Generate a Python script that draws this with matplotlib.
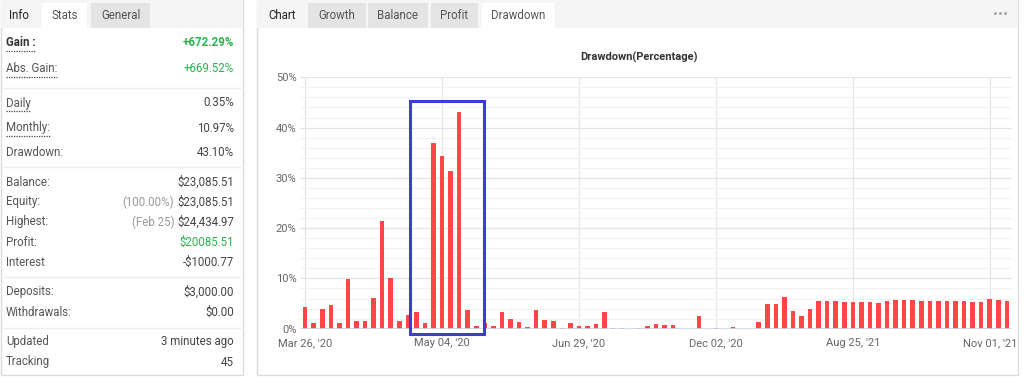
import matplotlib.pyplot as plt
from matplotlib.patches import Rectangle
from matplotlib.ticker import MultipleLocator

plt.rcParams['font.family'] = ['Roboto', 'DejaVu Sans']

# --- chart data (drawdown in %, one bar per period) ---
drawdown = [4.25, 1.2, 3.85, 4.8, 1.2, 9.95, 1.6, 1.6, 6.2, 21.5,
            10.0, 1.6, 2.7, 3.3, 1.1, 37.0, 34.3, 31.3, 43.1, 3.7,
            0.5, 1.2, 0.5, 3.3, 2.0, 1.3, 0.35, 3.7, 1.7, 1.5,
            0.15, 1.1, 0.6, 0.45, 0.95, 3.4, 0.2, 0.2, 0, 0.2,
            0.55, 1.0, 0.8, 0.8, 0, 0, 2.45, 0, 0.15, 0,
            0.35, 0, 0, 1.3, 4.9, 5.0, 6.4, 3.5, 2.6, 3.9,
            5.45, 5.45, 5.45, 5.25, 5.25, 5.25, 5.25, 5.05, 5.45, 5.65,
            5.65, 5.65, 5.45, 5.45, 5.45, 5.45, 5.45, 5.45, 5.25, 5.25,
            5.85, 5.65, 5.45]
tick_labels = ["Mar 26, '20", "May 04, '20", "Jun 29, '20",
               "Dec 02, '20", "Aug 25, '21", "Nov 01, '21"]
tick_step = 16
y_ticks = [0, 10, 20, 30, 40, 50]
highlight_bars = (13, 20)   # first / last bar inside the blue box

# --- stats panel ---
stat_labels = ["Gain :", "Abs. Gain:", "Daily", "Monthly:", "Drawdown:",
               "Balance:", "Equity:", "Highest:", "Profit:", "Interest",
               "Deposits:", "Withdrawals:", "Updated", "Tracking"]
stat_values = ["+672.29%", "+669.52%", "0.35%", "10.97%", "43.10%",
               "$23,085.51", "$23,085.51", "$24,434.97", "$20085.51", "-$1000.77",
               "$3,000.00", "$0.00", "3 minutes ago", "45"]
stat_notes = ["", "", "", "", "", "", "(100.00%)", "(Feb 25)", "", "", "", "", "", ""]
green_values = ["Gain :", "Abs. Gain:", "Profit:"]
underlined = ["Gain :", "Abs. Gain:", "Daily", "Monthly:"]

left_tabs = ["Info", "Stats", "General"]
chart_tabs = ["Chart", "Growth", "Balance", "Profit", "Drawdown"]

GREEN = '#2bb34b'
RED = '#ff4646'
BORDER = '#dcdcdc'

fig = plt.figure(figsize=(10.24, 3.84), dpi=100)
bg = fig.add_axes([0, 0, 1, 1])
bg.set_xlim(0, 1024)
bg.set_ylim(384, 0)
bg.axis('off')

# panels + tab bars
bg.add_patch(Rectangle((0.5, 0), 242, 375, fc='white', ec=BORDER, lw=1))
bg.add_patch(Rectangle((0.5, 0), 242, 28, fc='#f5f5f5', ec='none'))
bg.add_patch(Rectangle((257, 0), 761, 375, fc='white', ec=BORDER, lw=1))
bg.add_patch(Rectangle((257, 0), 761, 28, fc='#f5f5f5', ec='none'))

# left tabs: (x, width, colour) ; first one is plain text on the bar
left_tab_geom = [(4, 30, None), (42, 45, 'white'), (91, 59, '#e4e4e4')]
for name, (x, w, c) in zip(left_tabs, left_tab_geom):
    if c:
        bg.add_patch(Rectangle((x, 3), w, 25, fc=c, ec='none'))
    bg.text(x + w / 2, 15.5, name, ha='center', va='center', fontsize=8.3,
            color='#222' if c is None else '#555')

chart_tab_geom = [(262, 40, None), (308, 58, '#e4e4e4'), (368, 60, '#e4e4e4'),
                  (431, 47, '#e4e4e4'), (482, 73, 'white')]
for name, (x, w, c) in zip(chart_tabs, chart_tab_geom):
    if c:
        bg.add_patch(Rectangle((x, 3), w, 25, fc=c, ec='none'))
    bg.text(x + w / 2, 15.5, name, ha='center', va='center', fontsize=8.3,
            color='#222' if c is None else '#555')
# "more" menu dots
bg.scatter([995, 1000, 1005], [13, 13, 13], s=5, color='#aaaaaa', lw=0)

# stats rows
row_y = [43, 69, 103, 128, 152, 182, 202, 222, 242, 262, 292, 312, 342, 362]
for y in [88, 167, 277, 328]:
    bg.plot([4, 240], [y, y], color='#ececec', lw=1)

renderer = fig.canvas.get_renderer()
for lab, val, note, y in zip(stat_labels, stat_values, stat_notes, row_y):
    bold = lab == "Gain :"
    t = bg.text(6, y, lab, ha='left', va='center', fontsize=8.3,
                color='#333' if bold else '#555', fontweight='bold' if bold else 'normal')
    vcol = GREEN if lab in green_values else '#444'
    v = bg.text(234, y, val, ha='right', va='center', fontsize=8.3, color=vcol,
                fontweight='bold' if bold else 'normal')
    if lab in underlined:
        bb = t.get_window_extent(renderer)
        bg.plot([bb.x0, bb.x1], [y + 8, y + 8], color='#444', lw=0.9, ls=(0, (1, 1)))
    if note:
        bb = v.get_window_extent(renderer)
        bg.text(bb.x0 - 3, y, note, ha='right', va='center', fontsize=8.3, color='#999')

# chart title
bg.text(639, 57, "Drawdown(Percentage)", ha='center', va='center', fontsize=8,
        fontweight='bold', color='#333')

# --- drawdown bar chart ---
ax = fig.add_axes([300 / 1024, 1 - 328.7 / 384, 712 / 1024, 251.4 / 384])
x = list(range(len(drawdown)))
ax.bar(x, drawdown, width=0.53, color=RED, zorder=3)
ax.set_xlim(-0.6, len(drawdown) - 0.4)
ax.set_ylim(y_ticks[0], y_ticks[-1])

ax.set_yticks(y_ticks)
ax.set_yticklabels([f"{v}%" for v in y_ticks])
ax.yaxis.set_minor_locator(MultipleLocator(2))
ticks = list(range(0, len(drawdown), tick_step))
ax.set_xticks(ticks)
ax.set_xticklabels(tick_labels)

ax.grid(axis='y', which='major', color='#e4e4e4', lw=0.9, zorder=0)
ax.grid(axis='y', which='minor', color='#f2f2f2', lw=0.8, zorder=0)
ax.grid(axis='x', which='major', color='#e6e6e6', lw=0.9, zorder=0)
ax.set_axisbelow(True)
for s in ax.spines.values():
    s.set_visible(False)
ax.axhline(0, color='#ccd6eb', lw=1.2, zorder=4)
ax.tick_params(axis='both', which='both', length=0, labelsize=8, labelcolor='#666')
ax.tick_params(axis='y', pad=2.5)
ax.tick_params(axis='x', pad=7)

# highlight box around the big drawdown period
x0 = highlight_bars[0] - 0.78
x1 = highlight_bars[1] + 0.88
ax.add_patch(Rectangle((x0, -1.05), x1 - x0, 46.35, fill=False, ec='#3b3fd1',
                       lw=2.2, clip_on=False, zorder=6))

fig.savefig('out.png', dpi=100)
